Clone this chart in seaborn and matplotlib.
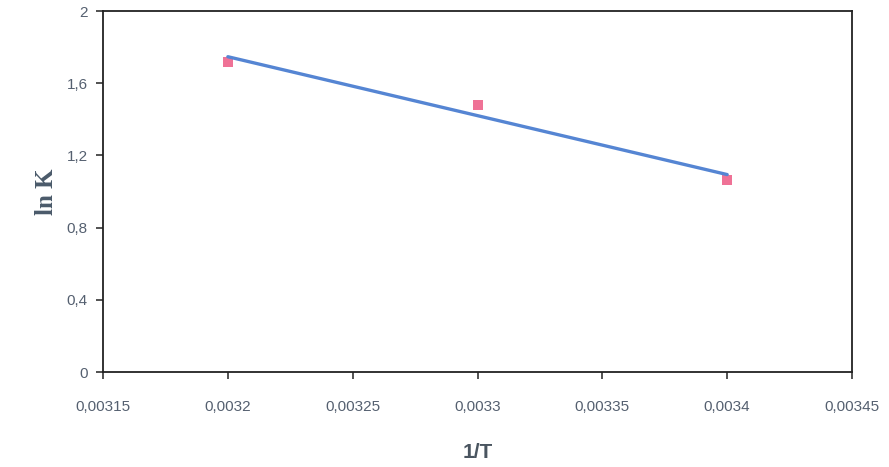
import numpy as np
import pandas as pd
import matplotlib
matplotlib.use('Agg')
import matplotlib.pyplot as plt
from matplotlib.ticker import FuncFormatter, MultipleLocator
import seaborn as sns

# Data
inv_T = [0.0032, 0.0033, 0.0034]
ln_K = [1.717, 1.48, 1.064]

df = pd.DataFrame({'inv_T': inv_T, 'ln_K': ln_K})

sns.set_style('white')
plt.rcParams['font.family'] = ['Liberation Sans', 'DejaVu Sans']

fig = plt.figure(figsize=(8.89, 4.67), dpi=100)
ax = fig.add_axes([0.1159, 0.2034, 0.8425, 0.773])

sns.regplot(data=df, x='inv_T', y='ln_K', ax=ax, ci=None, marker='s',
            scatter_kws={'color': '#ec4f7c', 's': 55, 'zorder': 2, 'linewidths': 0},
            line_kws={'color': '#5585d3', 'lw': 2.4, 'zorder': 3})

ax.set_xlim(0.00315, 0.00345)
ax.set_ylim(0, 2)
ax.xaxis.set_major_locator(MultipleLocator(0.00005))
ax.yaxis.set_major_locator(MultipleLocator(0.4))


def comma_fmt(v, pos):
    s = ('%.6f' % v).rstrip('0').rstrip('.')
    return s.replace('.', ',')


ax.xaxis.set_major_formatter(FuncFormatter(comma_fmt))
ax.yaxis.set_major_formatter(FuncFormatter(comma_fmt))

for sp in ax.spines.values():
    sp.set_color('#222222')
    sp.set_linewidth(1.3)

ax.tick_params(axis='both', direction='out', length=5, width=1.2, color='#333333',
               labelsize=11, labelcolor='#556070', bottom=True, left=True)
ax.tick_params(axis='x', pad=15)
ax.tick_params(axis='y', pad=6)

ax.set_xlabel('1/T', fontsize=15, color='#4a5560', fontweight='bold', va='center')
ax.xaxis.set_label_coords(0.5, -0.222)
ax.set_ylabel('ln K', fontsize=18, color='#4a5a6a', fontweight='bold',
              family=['Liberation Serif', 'DejaVu Serif'], labelpad=6)

fig.savefig('out.png', dpi=100)
